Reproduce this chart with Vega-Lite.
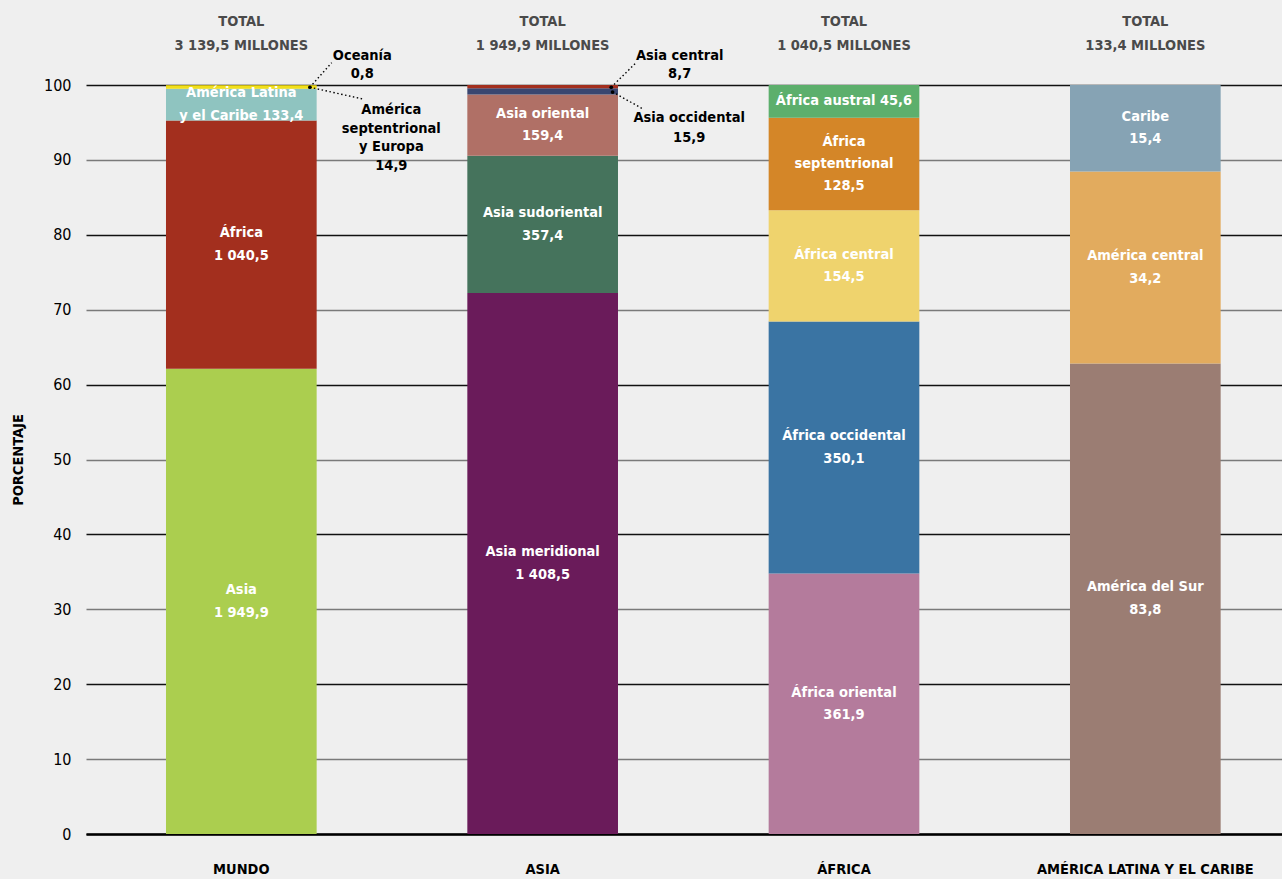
{
  "$schema": "https://vega.github.io/schema/vega-lite/v6.json",
  "width": 1196,
  "height": 749,
  "autosize": {"type": "none"},
  "padding": {"left": 86, "top": 85, "right": 0, "bottom": 45},
  "background": "#efefef",
  "config": {
    "view": {"stroke": null},
    "font": "DejaVu Sans Condensed, Liberation Sans Narrow, Roboto, sans-serif",
    "text": {"font": "DejaVu Sans Condensed, Liberation Sans Narrow, Roboto, sans-serif"}
  },
  "datasets": {
    "seg": [
      {"cat": "MUNDO", "name": "Asia", "value": 1949.9, "order": 1, "label": "Asia\n1 949,9"},
      {"cat": "MUNDO", "name": "África", "value": 1040.5, "order": 2, "label": "África\n1 040,5"},
      {"cat": "MUNDO", "name": "América Latina y el Caribe", "value": 133.4, "order": 3, "label": "América Latina\ny el Caribe 133,4"},
      {"cat": "MUNDO", "name": "América septentrional y Europa", "value": 14.9, "order": 4, "label": ""},
      {"cat": "MUNDO", "name": "Oceanía", "value": 0.8, "order": 5, "label": ""},
      {"cat": "ASIA", "name": "Asia meridional", "value": 1408.5, "order": 1, "label": "Asia meridional\n1 408,5"},
      {"cat": "ASIA", "name": "Asia sudoriental", "value": 357.4, "order": 2, "label": "Asia sudoriental\n357,4"},
      {"cat": "ASIA", "name": "Asia oriental", "value": 159.4, "order": 3, "label": "Asia oriental\n159,4"},
      {"cat": "ASIA", "name": "Asia occidental", "value": 15.9, "order": 4, "label": ""},
      {"cat": "ASIA", "name": "Asia central", "value": 8.7, "order": 5, "label": ""},
      {"cat": "ÁFRICA", "name": "África oriental", "value": 361.9, "order": 1, "label": "África oriental\n361,9"},
      {"cat": "ÁFRICA", "name": "África occidental", "value": 350.1, "order": 2, "label": "África occidental\n350,1"},
      {"cat": "ÁFRICA", "name": "África central", "value": 154.5, "order": 3, "label": "África central\n154,5"},
      {"cat": "ÁFRICA", "name": "África septentrional", "value": 128.5, "order": 4, "label": "África\nseptentrional\n128,5"},
      {"cat": "ÁFRICA", "name": "África austral", "value": 45.6, "order": 5, "label": "África austral 45,6"},
      {"cat": "AMÉRICA LATINA Y EL CARIBE", "name": "América del Sur", "value": 83.8, "order": 1, "label": "América del Sur\n83,8"},
      {"cat": "AMÉRICA LATINA Y EL CARIBE", "name": "América central", "value": 34.2, "order": 2, "label": "América central\n34,2"},
      {"cat": "AMÉRICA LATINA Y EL CARIBE", "name": "Caribe", "value": 15.4, "order": 3, "label": "Caribe\n15,4"}
    ],
    "totals": [
      {"cat": "MUNDO", "total": "TOTAL\n3 139,5 MILLONES"},
      {"cat": "ASIA", "total": "TOTAL\n1 949,9 MILLONES"},
      {"cat": "ÁFRICA", "total": "TOTAL\n1 040,5 MILLONES"},
      {"cat": "AMÉRICA LATINA Y EL CARIBE", "total": "TOTAL\n133,4 MILLONES"}
    ]
  },
  "layer": [
    {
      "data": {"name": "seg"},
      "transform": [
        {"stack": "value", "groupby": ["cat"], "sort": [{"field": "order", "order": "ascending"}], "offset": "normalize", "as": ["f0", "f1"]},
        {"calculate": "datum.f0 * 100", "as": "p0"},
        {"calculate": "datum.f1 * 100", "as": "p1"}
      ],
      "mark": {"type": "bar"},
      "encoding": {
        "x": {
          "field": "cat", "type": "nominal",
          "scale": {"domain": ["MUNDO", "ASIA", "ÁFRICA", "AMÉRICA LATINA Y EL CARIBE"], "paddingInner": 0.5, "paddingOuter": 0.2345, "align": 0.566},
          "axis": {
            "title": null, "labelAngle": 0, "labelFontWeight": "bold", "labelFontSize": 14.5, "labelColor": "#000",
            "ticks": false, "labelPadding": 35, "labelBaseline": "middle", "labelLimit": 0,
            "domainColor": "#000", "domainWidth": 2.5, "grid": false
          }
        },
        "y": {
          "field": "p0", "type": "quantitative",
          "scale": {"domain": [0, 100], "nice": false},
          "axis": {
            "title": "PORCENTAJE", "values": [0, 10, 20, 30, 40, 50, 60, 70, 80, 90, 100],
            "domain": false, "ticks": false, "labelPadding": 15, "labelFontSize": 16, "labelColor": "#000",
            "gridColor": {"condition": {"test": "datum.value % 20 === 0", "value": "#111111"}, "value": "#7a7a7a"},
            "gridWidth": 1.6,
            "titleFontWeight": "bold", "titleFontSize": 14.5, "titlePadding": 18, "titleColor": "#000"
          }
        },
        "y2": {"field": "p1"},
        "color": {
          "field": "name", "type": "nominal", "legend": null,
          "scale": {
            "domain": ["Asia", "África", "América Latina y el Caribe", "América septentrional y Europa", "Oceanía",
                       "Asia meridional", "Asia sudoriental", "Asia oriental", "Asia occidental", "Asia central",
                       "África oriental", "África occidental", "África central", "África septentrional", "África austral",
                       "América del Sur", "América central", "Caribe"],
            "range": ["#abce4f", "#a32f1e", "#8fc4c0", "#f2e01a", "#e0c000",
                      "#6a1b5a", "#45735c", "#b07066", "#3a4670", "#a32f1e",
                      "#b47b9c", "#3a74a3", "#efd36d", "#d48628", "#5caf6c",
                      "#9b7d73", "#e2ab5e", "#86a3b4"]
          }
        }
      }
    },
    {
      "data": {"name": "seg"},
      "transform": [
        {"stack": "value", "groupby": ["cat"], "sort": [{"field": "order", "order": "ascending"}], "offset": "normalize", "as": ["f0", "f1"]},
        {"calculate": "(datum.f0 + datum.f1) * 50", "as": "pm"},
        {"filter": "datum.label != '' && indexof(datum.label, '\\n') < 0"}
      ],
      "mark": {"type": "text", "color": "#ffffff", "fontWeight": "bold", "fontSize": 14.5, "lineBreak": "\n", "lineHeight": 22.5, "align": "center", "baseline": "middle"},
      "encoding": {
        "x": {"field": "cat", "type": "nominal"},
        "y": {"field": "pm", "type": "quantitative"},
        "text": {"field": "label"}
      }
    },
    {
      "data": {"name": "seg"},
      "transform": [
        {"stack": "value", "groupby": ["cat"], "sort": [{"field": "order", "order": "ascending"}], "offset": "normalize", "as": ["f0", "f1"]},
        {"calculate": "(datum.f0 + datum.f1) * 50", "as": "pm"},
        {"filter": "length(split(datum.label, '\\n')) == 2"}
      ],
      "mark": {"type": "text", "color": "#ffffff", "fontWeight": "bold", "fontSize": 14.5, "lineBreak": "\n", "lineHeight": 22.5, "align": "center", "baseline": "middle", "dy": -11.25},
      "encoding": {
        "x": {"field": "cat", "type": "nominal"},
        "y": {"field": "pm", "type": "quantitative"},
        "text": {"field": "label"}
      }
    },
    {
      "data": {"name": "seg"},
      "transform": [
        {"stack": "value", "groupby": ["cat"], "sort": [{"field": "order", "order": "ascending"}], "offset": "normalize", "as": ["f0", "f1"]},
        {"calculate": "(datum.f0 + datum.f1) * 50", "as": "pm"},
        {"filter": "length(split(datum.label, '\\n')) == 3"}
      ],
      "mark": {"type": "text", "color": "#ffffff", "fontWeight": "bold", "fontSize": 14.5, "lineBreak": "\n", "lineHeight": 22, "align": "center", "baseline": "middle", "dy": -22},
      "encoding": {
        "x": {"field": "cat", "type": "nominal"},
        "y": {"field": "pm", "type": "quantitative"},
        "text": {"field": "label"}
      }
    },
    {
      "data": {"name": "totals"},
      "mark": {"type": "text", "color": "#4a4a4a", "fontWeight": "bold", "fontSize": 14.5, "lineBreak": "\n", "lineHeight": 23.5, "align": "center", "baseline": "middle"},
      "encoding": {
        "x": {"field": "cat", "type": "nominal"},
        "y": {"datum": 108.41},
        "text": {"field": "total"}
      }
    },
    {
      "data": {"values": [{"cat": "MUNDO"}]},
      "mark": {"type": "rule", "color": "#000", "strokeWidth": 1.4, "strokeDash": [1.5, 2.5]},
      "encoding": {
        "x": {"field": "cat", "type": "nominal", "bandPosition": 0.955},
        "x2": {"field": "cat", "bandPosition": 1.1},
        "y": {"datum": 99.7},
        "y2": {"datum": 102.98}
      }
    },
    {
      "data": {"values": [{"cat": "MUNDO"}]},
      "mark": {"type": "rule", "color": "#000", "strokeWidth": 1.4, "strokeDash": [1.5, 2.5]},
      "encoding": {
        "x": {"field": "cat", "type": "nominal", "bandPosition": 0.955},
        "x2": {"field": "cat", "bandPosition": 1.306},
        "y": {"datum": 99.7},
        "y2": {"datum": 98.13}
      }
    },
    {
      "data": {"values": [{"cat": "ASIA"}]},
      "mark": {"type": "rule", "color": "#000", "strokeWidth": 1.4, "strokeDash": [1.5, 2.5]},
      "encoding": {
        "x": {"field": "cat", "type": "nominal", "bandPosition": 0.955},
        "x2": {"field": "cat", "bandPosition": 1.12},
        "y": {"datum": 99.7},
        "y2": {"datum": 102.98}
      }
    },
    {
      "data": {"values": [{"cat": "ASIA"}]},
      "mark": {"type": "rule", "color": "#000", "strokeWidth": 1.4, "strokeDash": [1.5, 2.5]},
      "encoding": {
        "x": {"field": "cat", "type": "nominal", "bandPosition": 0.964},
        "x2": {"field": "cat", "bandPosition": 1.158},
        "y": {"datum": 99.06},
        "y2": {"datum": 96.89}
      }
    },
    {
      "data": {"values": [{"cat": "MUNDO", "v": 99.7}, {"cat": "ASIA", "v": 99.7}]},
      "mark": {"type": "point", "filled": true, "color": "#000", "size": 14, "opacity": 1},
      "encoding": {
        "x": {"field": "cat", "type": "nominal", "bandPosition": 0.955},
        "y": {"field": "v", "type": "quantitative"}
      }
    },
    {
      "data": {"values": [{"cat": "ASIA", "v": 99.06}]},
      "mark": {"type": "point", "filled": true, "color": "#000", "size": 14, "opacity": 1},
      "encoding": {
        "x": {"field": "cat", "type": "nominal", "bandPosition": 0.964},
        "y": {"field": "v", "type": "quantitative"}
      }
    },
    {
      "data": {"values": [{"cat": "MUNDO", "note": "Oceanía\n0,8"}]},
      "mark": {"type": "text", "color": "#000", "fontWeight": "bold", "fontSize": 14.5, "lineBreak": "\n", "lineHeight": 18, "align": "center", "baseline": "middle", "dx": 121},
      "encoding": {"x": {"field": "cat", "type": "nominal"}, "y": {"datum": 103.87}, "text": {"field": "note"}}
    },
    {
      "data": {"values": [{"cat": "MUNDO", "note": "América\nseptentrional\ny Europa\n14,9"}]},
      "mark": {"type": "text", "color": "#000", "fontWeight": "bold", "fontSize": 14.5, "lineBreak": "\n", "lineHeight": 18.5, "align": "center", "baseline": "middle", "dx": 150},
      "encoding": {"x": {"field": "cat", "type": "nominal"}, "y": {"datum": 96.66}, "text": {"field": "note"}}
    },
    {
      "data": {"values": [{"cat": "ASIA", "note": "Asia central\n8,7"}]},
      "mark": {"type": "text", "color": "#000", "fontWeight": "bold", "fontSize": 14.5, "lineBreak": "\n", "lineHeight": 18, "align": "center", "baseline": "middle", "dx": 137},
      "encoding": {"x": {"field": "cat", "type": "nominal"}, "y": {"datum": 103.87}, "text": {"field": "note"}}
    },
    {
      "data": {"values": [{"cat": "ASIA", "note": "Asia occidental\n15,9"}]},
      "mark": {"type": "text", "color": "#000", "fontWeight": "bold", "fontSize": 14.5, "lineBreak": "\n", "lineHeight": 20, "align": "center", "baseline": "middle", "dx": 146.5},
      "encoding": {"x": {"field": "cat", "type": "nominal"}, "y": {"datum": 95.6}, "text": {"field": "note"}}
    }
  ]
}
